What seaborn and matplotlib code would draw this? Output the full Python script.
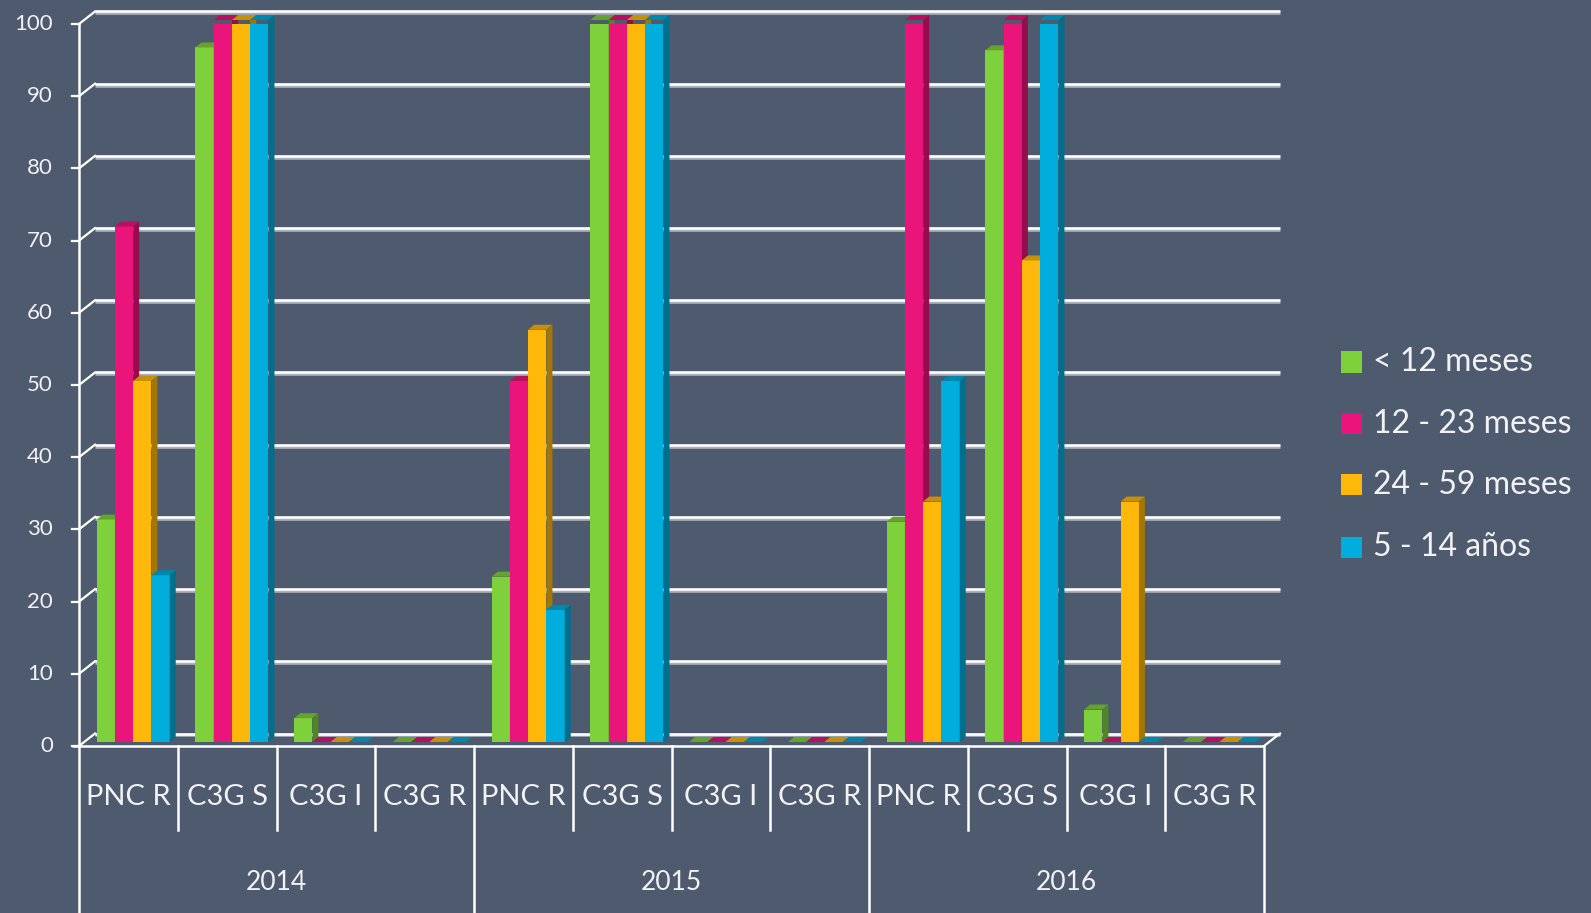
import numpy as np
import pandas as pd
import matplotlib
matplotlib.use("Agg")
import matplotlib.pyplot as plt
import matplotlib.patheffects as pe
from matplotlib import transforms as mtransforms
from matplotlib.patches import Polygon, Rectangle
import seaborn as sns

# ---- data -------------------------------------------------------------
anios = ["2014", "2015", "2016"]
indicadores = ["PNC R", "C3G S", "C3G I", "C3G R"]
grupos = ["< 12 meses", "12 - 23 meses", "24 - 59 meses", "5 - 14 años"]

menores_12 = [30.8, 96.2, 3.3, 0, 22.9, 100, 0, 0, 30.5, 95.8, 4.5, 0]
m12_23 = [71.4, 100, 0, 0, 50.0, 100, 0, 0, 100, 100, 0, 0]
m24_59 = [50.0, 100, 0, 0, 57.1, 100, 0, 0, 33.3, 66.7, 33.3, 0]
a5_14 = [23.1, 100, 0, 0, 18.3, 100, 0, 0, 50.0, 100, 0, 0]

y_ticks = list(range(0, 101, 10))
colores = ["#7fd13b", "#ea157a", "#feb80a", "#00addc"]

BG = "#4e5a6e"
TXT = "#f2f2f2"

# ---- tidy frame -------------------------------------------------------
claves = [f"{a} {i}" for a in anios for i in indicadores]
series = [menores_12, m12_23, m24_59, a5_14]
rows = []
for g, vals in zip(grupos, series):
    for c, v in zip(claves, vals):
        rows.append({"clave": c, "grupo": g, "valor": v})
df = pd.DataFrame(rows)

plt.rcParams["font.family"] = ["Lato", "DejaVu Sans"]

W, H = 1591, 913
fig = plt.figure(figsize=(W / 100, H / 100), dpi=100, facecolor=BG)
ax = fig.add_axes([79 / W, (H - 746) / H, 1185 / W, 722 / H])

sns.barplot(data=df, x="clave", y="valor", hue="grupo", order=claves,
            hue_order=grupos, palette=colores, width=0.74, dodge=True,
            saturation=1, errorbar=None, legend=False, linewidth=0, ax=ax)

ax.set_xlim(-0.5, 11.5)
ax.set_ylim(0, 100)
ax.axis("off")

# pixel -> data helpers
pxx = 1 / 98.75
pxy = 1 / 7.22
back_dx, back_dy = 16 * pxx, 12.5 * pxy
ddx, ddy = 6 * pxx, 5 * pxy


def shade(c, f):
    r, g, b = c[:3]
    return (r * f, g * f, b * f)


# ---- 3D bars: push slightly into depth, add top and side faces ---------
shift = mtransforms.ScaledTranslation(4.8 / 100, 4 / 100, fig.dpi_scale_trans)
tr = ax.transData + shift
for p in list(ax.patches):
    x0, w, h = p.get_x(), p.get_width(), p.get_height()
    col = p.get_facecolor()
    z = 3 + (x0 + 1) * 0.01
    p.set_transform(tr)
    p.set_zorder(z)
    p.set_edgecolor("none")
    top = Polygon([(x0, h), (x0 + w, h), (x0 + w + ddx, h + ddy), (x0 + ddx, h + ddy)],
                  closed=True, facecolor=shade(col, 0.78), edgecolor="none",
                  transform=tr, zorder=z, clip_on=False)
    side = Polygon([(x0 + w, 0), (x0 + w + ddx, ddy), (x0 + w + ddx, h + ddy), (x0 + w, h)],
                   closed=True, facecolor=shade(col, 0.64), edgecolor="none",
                   transform=tr, zorder=z, clip_on=False)
    ax.add_patch(top)
    ax.add_patch(side)

# ---- back wall gridlines, ticks and value labels -----------------------
shadow = [pe.SimpleLineShadow(offset=(0, -1.3), shadow_color="#aab1bd", alpha=1),
          pe.Normal()]
for v in y_ticks:
    ax.plot([-0.5 + back_dx, 11.5 + back_dx], [v + back_dy] * 2, color="white",
            lw=1.9, zorder=1, clip_on=False, solid_capstyle="butt",
            path_effects=shadow)
    ax.plot([-0.5, -0.5 + back_dx], [v, v + back_dy], color="white", lw=1.6,
            zorder=1, clip_on=False)
    ax.plot([-0.5 - 7 * pxx, -0.5], [v, v], color="white", lw=1.6,
            zorder=1, clip_on=False)
    ax.text(-0.5 - 26 * pxx, v, str(v), ha="right", va="center",
            fontsize=16, color=TXT)

# front baseline and right floor edge
ax.plot([-0.5 - 7 * pxx, 11.5], [0, 0], color="white", lw=1.8, zorder=2,
        clip_on=False, solid_capstyle="butt")
ax.plot([11.5, 11.5 + back_dx], [0, back_dy], color="white", lw=1.6,
        zorder=1, clip_on=False)

# ---- category axis (two levels) ---------------------------------------
trb = mtransforms.blended_transform_factory(ax.transData, fig.transFigure)


def fy(py):
    return 1 - py / H


ax.plot([-0.5, -0.5], [fy(24), fy(H)], color="white", lw=1.8,
        transform=trb, clip_on=False, zorder=2)
for k in range(1, 13):
    bottom = H if k % 4 == 0 else 830
    ax.plot([-0.5 + k, -0.5 + k], [fy(746), fy(bottom)], color="white",
            lw=1.8, transform=trb, clip_on=False, zorder=2)

for k, c in enumerate(claves):
    ind = c.split(" ", 1)[1]
    ax.text(k, fy(797), ind, transform=trb, ha="center", va="center",
            fontsize=21, color=TXT)
for j, a in enumerate(anios):
    ax.text(4 * j + 1.5, fy(882), a, transform=trb, ha="center",
            va="center", fontsize=19, color=TXT)

# ---- legend -----------------------------------------------------------
for g, c, cy in zip(grupos, colores, [362, 424, 485, 547]):
    fig.patches.append(Rectangle((1341 / W, fy(cy + 10.5)), 21 / W, 21 / H,
                                 transform=fig.transFigure, facecolor=c,
                                 edgecolor="none"))
    fig.text(1373 / W, fy(cy), g, ha="left", va="center", fontsize=23,
             color=TXT)

fig.savefig("out.png", dpi=100, facecolor=BG)
